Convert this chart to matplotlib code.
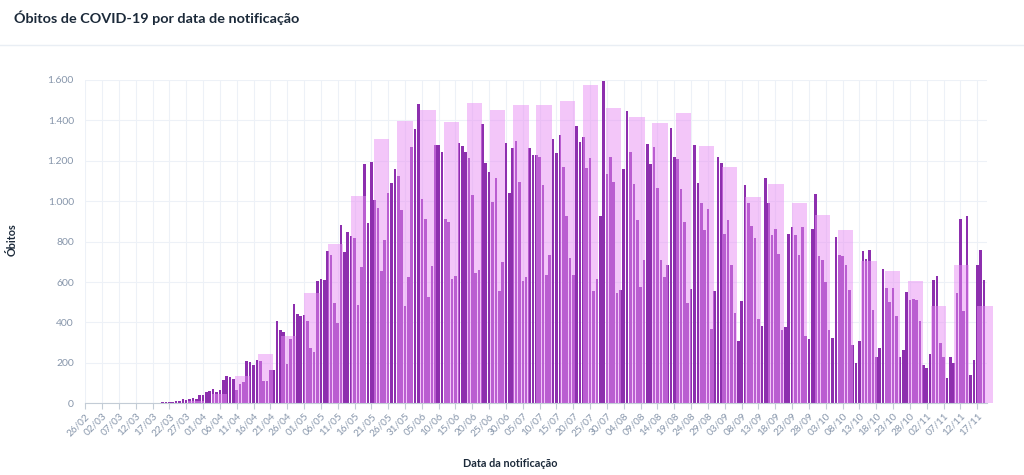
import matplotlib
matplotlib.use('Agg')
import matplotlib.pyplot as plt
from matplotlib.ticker import FuncFormatter
import numpy as np
import pandas as pd

plt.rcParams['font.family'] = ['Lato', 'DejaVu Sans']

# dias de notificacao (26/02/2020 em diante)
datas = pd.date_range('2020-02-26', periods=268, freq='D')
rotulos = [d.strftime('%d/%m') for d in datas]

# obitos diarios
obitos = [0] * 20 + [
    1, 3, 2, 5, 7, 7, 9, 12, 11, 20,
    15, 19, 25, 23, 42, 40, 58, 60, 72, 55,
    67, 117, 133, 130, 120, 66, 95, 106, 207, 204,
    188, 212, 210, 110, 112, 167, 166, 405, 365, 355,
    195, 320, 490, 440, 430, 435, 405, 272, 255, 605,
    615, 611, 752, 733, 498, 398, 884, 750, 846, 826,
    819, 487, 676, 1184, 892, 1192, 1004, 968, 654, 809,
    1043, 1090, 1158, 1126, 957, 481, 624, 1269, 1357, 1481,
    1009, 910, 525, 681, 1279, 1279, 1246, 913, 896, 615,
    628, 1287, 1274, 1244, 1213, 1029, 645, 658, 1382, 1191,
    1145, 996, 1117, 557, 697, 1287, 1042, 1261, 1299, 1097,
    606, 623, 1261, 1228, 1228, 1221, 1078, 636, 736, 1307,
    1239, 1329, 1170, 926, 719, 635, 1373, 1291, 1319, 1163,
    1216, 557, 616, 926, 1595, 1137, 1219, 1095, 545, 562,
    1161, 1445, 1244, 1087, 909, 575, 707, 1282, 1183, 1269,
    1067, 711, 623, 686, 1362, 1219, 1211, 1059, 896, 495,
    567, 1279, 1092, 989, 860, 963, 366, 555, 1221, 1191,
    838, 909, 686, 449, 310, 505, 1078, 989, 876, 818,
    416, 383, 1117, 993, 835, 863, 741, 363, 376, 838,
    873, 835, 732, 873, 335, 317, 865, 1037, 731, 711,
    600, 363, 321, 823, 736, 731, 684, 562, 290, 200,
    308, 752, 714, 757, 462, 230, 272, 664, 570, 499,
    573, 432, 230, 263, 550, 512, 515, 509, 408, 189,
    177, 242, 611, 631, 300, 230, 126, 230, 200, 545,
    910, 457, 926, 139, 214, 686, 757, 608,
]

# barras semanais (eixo proprio)
semanas = ['SE%02d' % n for n in range(12, 48)]
semanal = [3, 10, 48, 134, 242, 335, 545, 789, 1025, 1307,
           1395, 1453, 1390, 1486, 1453, 1476, 1477, 1498, 1575, 1460,
           1418, 1385, 1436, 1272, 1171, 1022, 1087, 993, 934, 857,
           706, 656, 603, 482, 686, 482]

cor_dia = '#8d2fae'
cor_semana = '#e88ef5'
cor_texto = '#8796ab'
cor_grade = '#edf1f7'

fig = plt.figure(figsize=(10.24, 4.75), dpi=100)
fig.text(0.0137, 0.962, 'Óbitos de COVID-19 por data de notificação',
         fontsize=10.4, fontweight='bold', color='#1c2a3a', va='center')
fig.add_artist(plt.Line2D([0, 1], [0.906, 0.906], color='#e9eef4', lw=1))

ax = fig.add_axes([0.0830, 0.1509, 0.8809, 0.6807])
x = np.arange(len(obitos))
ax.bar(x, obitos, width=0.78, color=cor_dia, zorder=2)
ax.set_xlim(-0.06, 267.9)
ax.set_ylim(0, 1600)
ax.set_xticks(x[::5])
ax.set_xticklabels(rotulos[::5], rotation=45, ha='right', rotation_mode='anchor')
ax.set_yticks(range(0, 1601, 200))
ax.yaxis.set_major_formatter(FuncFormatter(lambda v, p: f'{int(v):,}'.replace(',', '.')))
ax.tick_params(axis='x', length=4, width=0.8, color='#c3ccd6', labelsize=7.2,
               labelcolor=cor_texto, pad=2)
ax.tick_params(axis='y', length=0, labelsize=7.5, labelcolor=cor_texto, pad=8)
ax.grid(color=cor_grade, lw=0.8)
ax.set_axisbelow(True)
for s in ['top', 'right', 'left']:
    ax.spines[s].set_visible(False)
ax.spines['bottom'].set_color('#c3ccd6')

# semanas num eixo sobreposto
ax2 = ax.twiny()
ax2.bar(np.arange(len(semanal)), semanal, width=0.66, color=cor_semana,
        alpha=0.5, clip_on=False)
ax2.set_xlim(-3.783, 35.087)
ax2.set_ylim(0, 1600)
ax2.set_axis_off()

fig.text(0.0117, 0.495, 'Óbitos', rotation=90, fontsize=7.8, fontweight='bold',
         color='#1c2a3a', va='center', ha='center')
fig.text(0.4985, 0.024, 'Data da notificação', fontsize=7.8, fontweight='bold',
         color='#1c2a3a', va='center', ha='center')

fig.savefig('out.png', dpi=100)
